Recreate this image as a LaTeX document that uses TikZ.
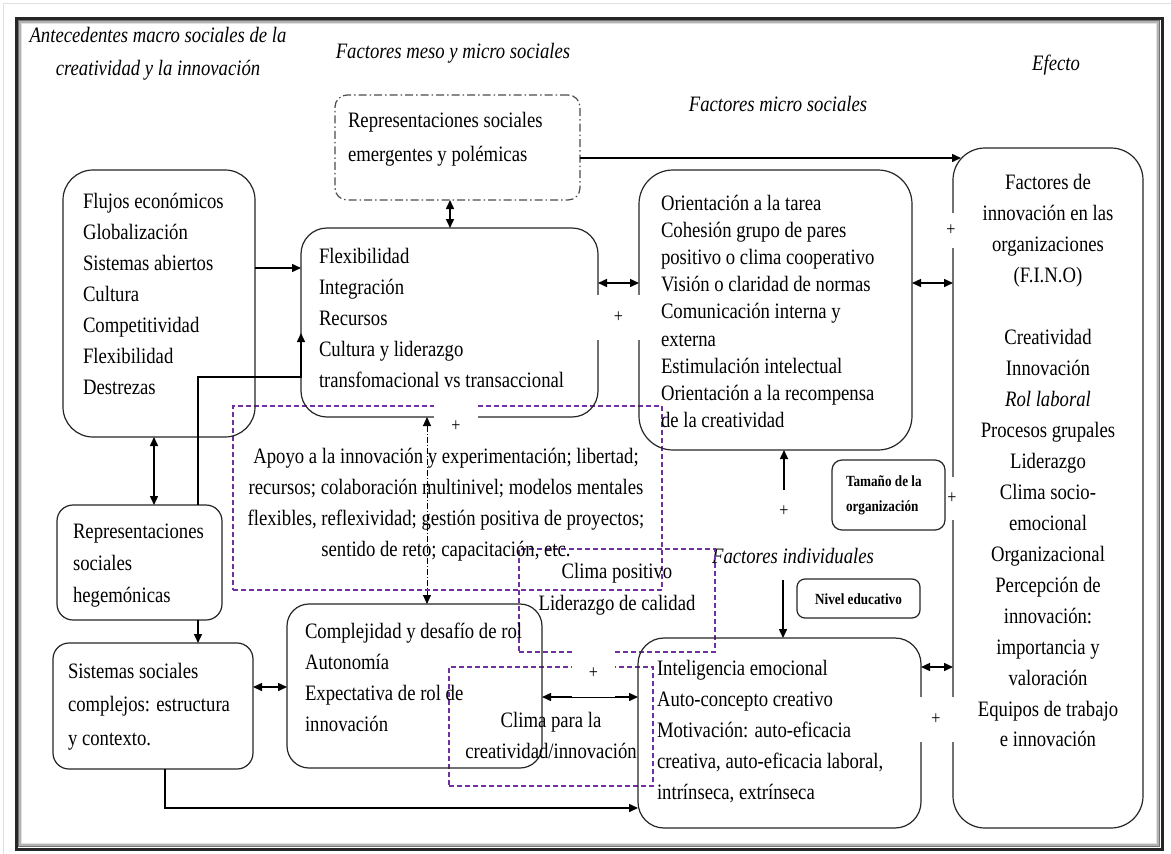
\documentclass[tikz,border=0pt]{standalone}
\usepackage{fontspec}
\setmainfont{Liberation Serif}[FakeStretch=0.85]
\usetikzlibrary{arrows.meta}
\definecolor{violeta}{RGB}{112,48,160}
% multi-line text blocks: size, line spacing, lines
\newcommand{\txtl}[3]{{\fontsize{#1}{#2}\selectfont\begin{tabular}[t]{@{}l@{}}#3\end{tabular}}}
\newcommand{\txtc}[3]{{\fontsize{#1}{#2}\selectfont\begin{tabular}[t]{@{}c@{}}#3\end{tabular}}}

\begin{document}
\begin{tikzpicture}[x=1pt,y=-1pt,
  caja/.style={draw=black!85, line width=1.2pt, rounded corners=#1, inner sep=0pt, outer sep=0pt},
  caja/.default=20pt,
  marco/.style={draw=violeta, line width=1.2pt, dash pattern=on 5pt off 3pt, inner sep=0pt, outer sep=0pt},
  txt/.style={inner sep=0pt, outer sep=0pt},
  flecha/.style={-{Triangle[length=9pt,width=8pt]}, line width=1.5pt},
  dflecha/.style={{Triangle[length=9pt,width=8pt]}-{Triangle[length=9pt,width=8pt]}, line width=1.5pt},
  mas/.style={fill=white, inner sep=0pt, outer sep=0pt, font=\fontsize{19}{19}\selectfont},
]
% page and frame
\fill[white] (0,0) rectangle (1171,854);
\useasboundingbox (0,0) rectangle (1171,854);
\draw[black!12, line width=0.8pt] (3,854) -- (3,3) -- (1171,3);
\draw[black!85, line width=3pt] (16,18) rectangle (1162,849);
\draw[black!55, line width=1.5pt] (18.5,20.5) rectangle (1159.5,846.5);
\draw[black!30, line width=1.5pt] (20,22) rectangle (1158,845);
\draw[black!12, line width=1.5pt] (21.5,23.5) rectangle (1156.5,843.5);

% headings
\node[txt, anchor=base] (hmacro) at (158,42) {\itshape\txtc{22}{33}{Antecedentes macro sociales de la\\creatividad y la innovación}};
\node[txt, anchor=base] (hmeso) at (453,58) {\itshape\fontsize{22}{26}\selectfont Factores meso y micro sociales};
\node[txt, anchor=base] (hmicro) at (778,111) {\itshape\fontsize{22}{26}\selectfont Factores micro sociales};
\node[txt, anchor=base] (hefecto) at (1056,70) {\itshape\fontsize{22}{26}\selectfont Efecto};
\node[txt, anchor=base] (hindiv) at (793,563) {\itshape\fontsize{22}{26}\selectfont Factores individuales};

% dashed climate frames
\node[marco, minimum width=429pt, minimum height=184pt] (apoyo) at (447.5,498) {};
\node[marco, minimum width=196pt, minimum height=103pt] (climapos) at (617,600.5) {};
\node[marco, minimum width=204pt, minimum height=119pt] (climacre) at (551,726.5) {};

% boxes
\node[caja=12pt, draw=black!70, dash pattern=on 8pt off 3pt on 1.5pt off 3pt, minimum width=245pt, minimum height=105pt] (emerg) at (457.5,147.5) {};
\node[caja=30pt, minimum width=192pt, minimum height=267pt] (macro) at (159,303.5) {};
\node[caja=26pt, minimum width=297pt, minimum height=189pt] (meso) at (449.5,322.5) {};
\node[caja=34pt, minimum width=273pt, minimum height=280pt] (micro) at (775.5,310) {};
\node[caja=32pt, minimum width=190pt, minimum height=680pt] (fino) at (1048,488) {};
\node[caja=10pt, minimum width=113pt, minimum height=70pt] (tamano) at (888.5,495) {};
\node[caja=8pt, minimum width=123pt, minimum height=39pt] (nivel) at (858.5,598.5) {};
\node[caja=26pt, minimum width=283pt, minimum height=190pt] (indiv) at (779.5,733) {};
\node[caja=16pt, minimum width=165pt, minimum height=115pt] (hegem) at (139.5,562.5) {};
\node[caja=16pt, minimum width=200pt, minimum height=126pt] (sistemas) at (153,706) {};
\node[caja=22pt, minimum width=255pt, minimum height=164pt] (rol) at (414.5,686) {};

% box contents
\node[txt, anchor=base west] (temerg) at (348,127) {\txtl{22}{34}{Representaciones sociales\\emergentes y polémicas}};
\node[txt, anchor=base west] (tmacro) at (83,208) {\txtl{22}{31}{Flujos económicos\\Globalización\\Sistemas abiertos\\Cultura\\Competitividad\\Flexibilidad\\Destrezas}};
\node[txt, anchor=base west] (tmeso) at (319,263) {\txtl{22}{31}{Flexibilidad\\Integración\\Recursos\\Cultura y liderazgo\\transfomacional vs transaccional}};
\node[txt, anchor=base west] (tmicro) at (661,210) {\txtl{22}{27.2}{Orientación a la tarea\\Cohesión grupo de pares\\positivo o clima cooperativo\\Visión o claridad de normas\\Comunicación interna y\\externa\\Estimulación intelectual\\Orientación a la recompensa\\de la creatividad}};
\node[txt, anchor=base] (tfino) at (1048,189) {\txtc{22}{31}{Factores de\\innovación en las\\organizaciones\\(F.I.N.O)\\ \\Creatividad\\Innovación\\\textit{Rol laboral}\\Procesos grupales\\Liderazgo\\Clima socio-\\emocional\\Organizacional\\Percepción de\\innovación:\\importancia y\\valoración\\Equipos de trabajo\\e innovación}};
\node[txt, anchor=base west] (ttamano) at (846,486) {\bfseries\txtl{15.5}{25}{Tamaño de la\\organización}};
\node[txt, anchor=base] (tnivel) at (858.5,604) {\bfseries\fontsize{15.5}{18}\selectfont Nivel educativo};
\node[txt, anchor=base west] (tindiv) at (657,675) {\txtl{22}{31}{Inteligencia emocional\\Auto-concepto creativo\\Motivación: auto-eficacia\\creativa, auto-eficacia laboral,\\intrínseca, extrínseca}};
\node[txt, anchor=base west] (thegem) at (73,538) {\txtl{22}{32}{Representaciones\\sociales\\hegemónicas}};
\node[txt, anchor=base west] (tsistemas) at (68,678) {\txtl{22}{33.5}{Sistemas sociales\\complejos: estructura\\y contexto.}};
\node[txt, anchor=base west] (trol) at (305,638) {\txtl{22}{31.3}{Complejidad y desafío de rol\\Autonomía\\Expectativa de rol de\\innovación}};
\node[txt, anchor=base] (tapoyo) at (446,463) {\txtc{22}{31.3}{Apoyo a la innovación y experimentación; libertad;\\recursos; colaboración multinivel; modelos mentales\\flexibles, reflexividad; gestión positiva de proyectos;\\sentido de reto; capacitación, etc.}};
\node[txt, anchor=base] (tclimapos) at (617,578) {\txtc{22}{32}{Clima positivo\\Liderazgo de calidad}};
\node[txt, anchor=base] (tclimacre) at (551,727) {\txtc{22}{31}{Clima para la\\creatividad/innovación}};

% sign that feeds the organisation-size link
\node[mas, fill=none, minimum width=12pt, minimum height=42pt] (mas4) at (784,511) {+};
\coordinate (indtop) at (783,580);

% connectors
\draw[flecha] (macro.east |- 0,268) -- (meso.west |- 0,268);
\draw[flecha] (hegem.north -| 198,0) -- (198,377) -- (meso.west |- 0,377) -- (meso.west |- 0,333);
\draw[dflecha] (macro.south -| 154,0) -- (hegem.north -| 154,0);
\draw[flecha] (hegem.south -| 198,0) -- (sistemas.north -| 198,0);
\draw[dflecha] (sistemas.east |- 0,687) -- (rol.west |- 0,687);
\draw[flecha] (sistemas.south -| 165,0) |- (indiv.west |- 0,808);
\draw[flecha, shorten >=-8pt] (emerg.east |- 0,158) -- (fino.west |- 0,158);
\draw[dflecha] (emerg.south -| 450,0) -- (meso.north -| 450,0);
\draw[dflecha] (meso.east |- 0,283) -- (micro.west |- 0,283);
\draw[dflecha] (micro.east |- 0,283) -- (fino.west |- 0,283);
\draw[flecha] (mas4.north) -- (micro.south -| mas4.north);
\draw[flecha] (indtop) -- (indiv.north -| indtop);
\draw[dflecha] (indiv.east |- 0,667) -- (fino.west |- 0,667);
\draw[dflecha] (rol.east |- 0,697) -- (indiv.west |- 0,697);
\draw[dflecha, line width=0.9pt, dash pattern=on 6pt off 2pt on 1pt off 2pt] (meso.south -| 427,0) -- (rol.north -| 427,0);

% positive-influence signs
\node[mas, minimum width=45pt, minimum height=45pt] (mas1) at (618.5,317.5) {+};
\node[mas, minimum width=12pt, minimum height=35pt] (mas2) at (951,230) {+};
\node[mas, minimum width=44pt, minimum height=46pt] (mas3) at (456,426) {+};
\node[mas, minimum width=10pt, minimum height=43pt] (mas5) at (952,498.5) {+};
\node[mas, minimum width=43pt, minimum height=47pt] (mas6) at (593.5,673.5) {+};
\node[mas, minimum width=38pt, minimum height=45pt] (mas7) at (936,719.5) {+};
\end{tikzpicture}
\end{document}
